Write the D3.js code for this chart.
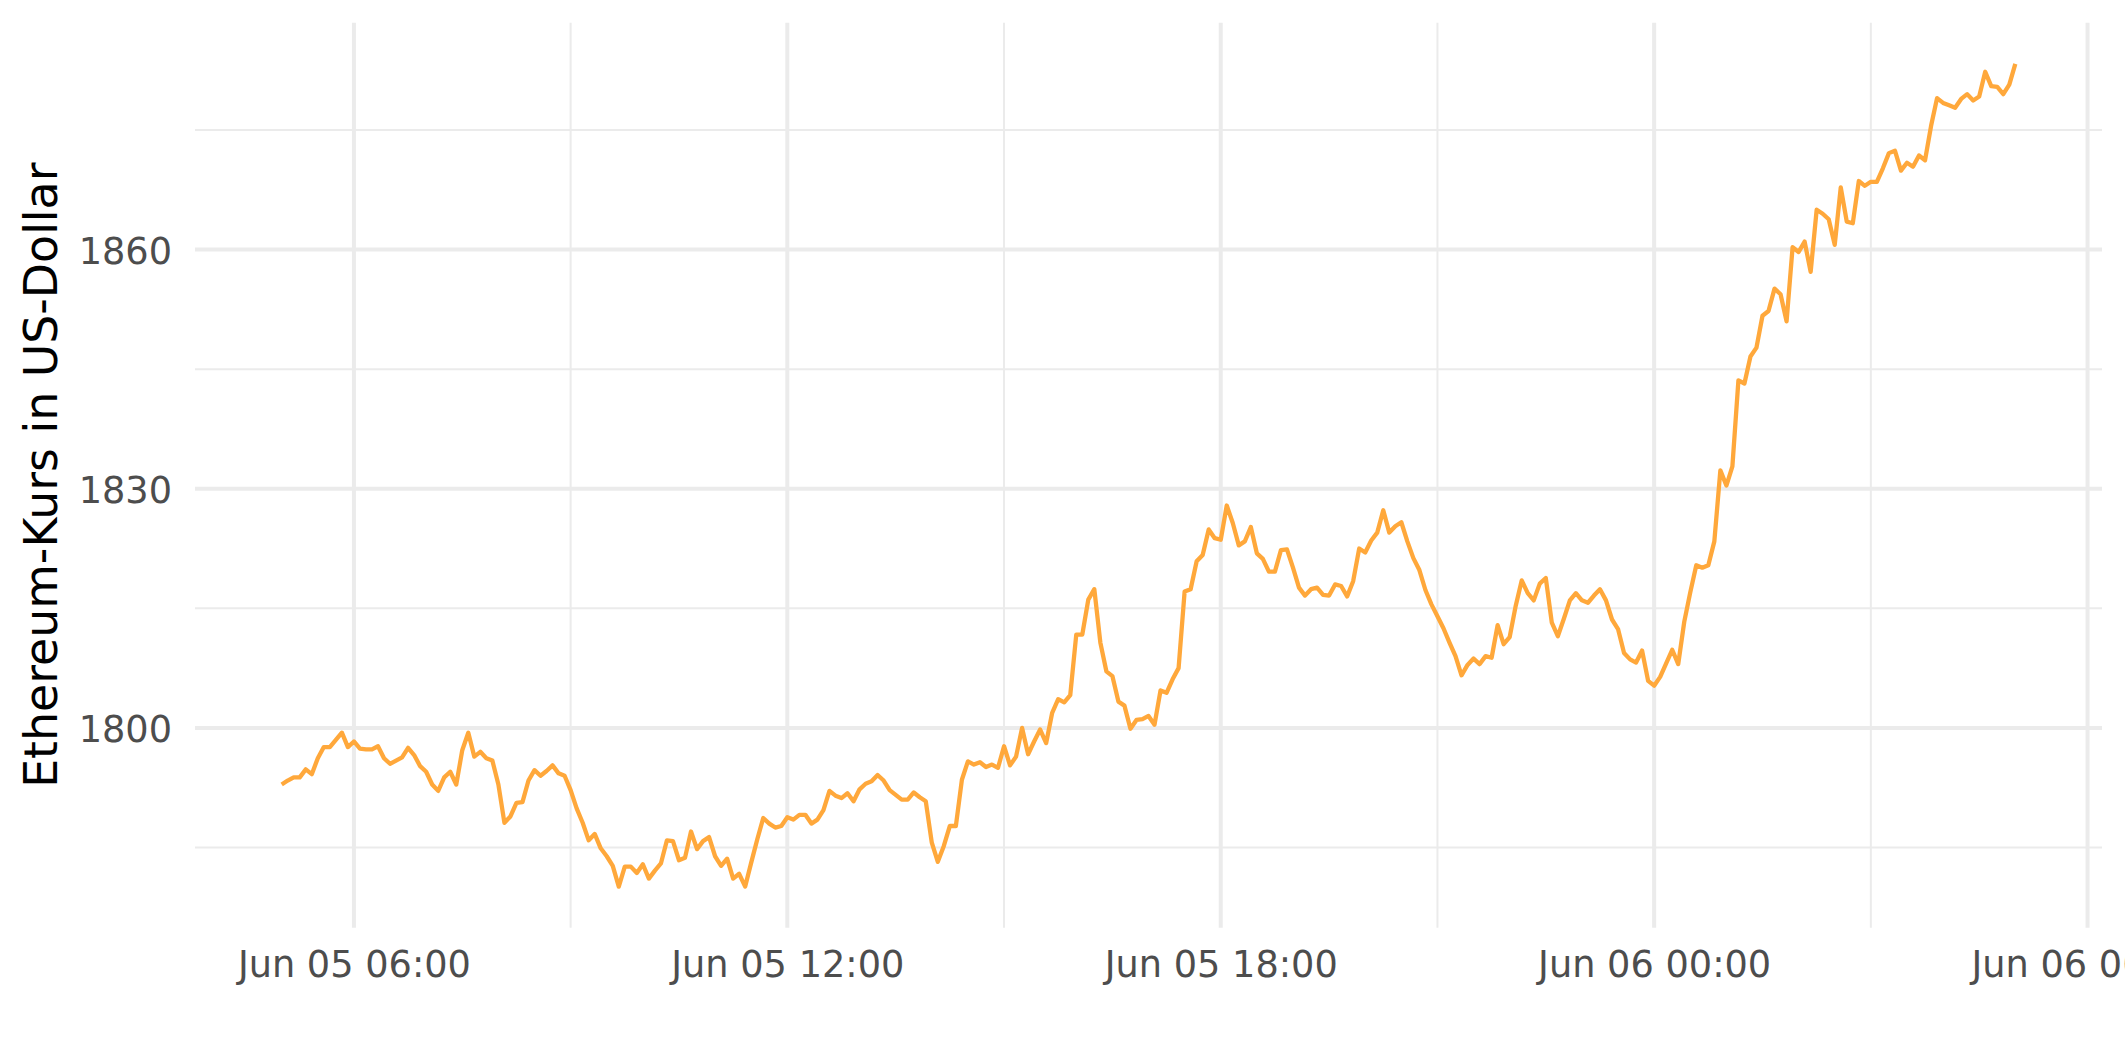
<!DOCTYPE html>
<html>
<head>
<meta charset="utf-8">
<script src="https://cdn.jsdelivr.net/npm/d3@7"></script>
<style>
  html, body { margin: 0; padding: 0; background: #ffffff; }
  svg { display: block; }
</style>
</head>
<body>
<svg id="chart" width="2125" height="1062"></svg>
<script>
// ---- Data ----
const startTime = "2023-06-05T05:00:00Z";   // first sample
const stepMinutes = 5;                        // sampling interval
const prices = [
  1792.9,1793.4,1793.8,1793.8,1794.8,1794.2,1796.2,1797.6,1797.6,1798.5,
  1799.4,1797.6,1798.3,1797.4,1797.3,1797.3,1797.7,1796.2,1795.5,1795.9,
  1796.3,1797.5,1796.6,1795.2,1794.5,1792.9,1792.1,1793.8,1794.5,1792.9,
  1797.2,1799.4,1796.4,1797.0,1796.2,1795.9,1792.9,1788.1,1788.9,1790.6,
  1790.7,1793.4,1794.7,1794.0,1794.6,1795.3,1794.3,1794.0,1792.2,1789.9,
  1788.1,1785.9,1786.7,1784.9,1783.9,1782.7,1780.1,1782.6,1782.6,1781.8,
  1782.9,1781.1,1782.1,1783.0,1785.9,1785.8,1783.4,1783.7,1787.0,1784.8,
  1785.8,1786.3,1783.9,1782.7,1783.6,1781.1,1781.7,1780.1,1783.1,1786.0,
  1788.7,1788.0,1787.5,1787.7,1788.8,1788.5,1789.1,1789.1,1788.0,1788.5,
  1789.7,1792.1,1791.5,1791.2,1791.8,1790.8,1792.3,1793.0,1793.3,1794.1,
  1793.4,1792.2,1791.6,1791.0,1791.0,1791.9,1791.3,1790.8,1785.6,1783.2,
  1785.2,1787.7,1787.7,1793.5,1795.8,1795.4,1795.7,1795.1,1795.4,1795.0,
  1797.7,1795.3,1796.4,1800.0,1796.7,1798.3,1799.8,1798.1,1801.9,1803.6,
  1803.2,1804.1,1811.7,1811.7,1816.1,1817.4,1810.7,1807.1,1806.5,1803.3,
  1802.8,1799.9,1801.0,1801.1,1801.5,1800.4,1804.7,1804.4,1806.1,1807.5,
  1817.1,1817.4,1820.9,1821.7,1824.9,1823.8,1823.6,1827.9,1825.7,1822.9,
  1823.4,1825.2,1821.9,1821.2,1819.6,1819.6,1822.3,1822.4,1820.1,1817.6,
  1816.6,1817.4,1817.6,1816.7,1816.6,1818.0,1817.8,1816.5,1818.4,1822.5,
  1822.0,1823.5,1824.5,1827.3,1824.5,1825.3,1825.8,1823.4,1821.3,1819.8,
  1817.3,1815.5,1814.0,1812.5,1810.7,1809.0,1806.6,1807.9,1808.7,1808.0,
  1809.0,1808.8,1812.9,1810.5,1811.4,1815.3,1818.5,1816.9,1816.0,1818.1,
  1818.8,1813.2,1811.5,1813.7,1816.0,1816.9,1816.0,1815.7,1816.6,1817.4,
  1816.0,1813.6,1812.4,1809.4,1808.6,1808.2,1809.7,1805.9,1805.3,1806.4,
  1808.1,1809.8,1808.0,1813.3,1817.0,1820.4,1820.1,1820.4,1823.4,1832.3,
  1830.4,1832.8,1843.6,1843.2,1846.6,1847.7,1851.7,1852.3,1855.1,1854.4,
  1851.0,1860.3,1859.7,1861.0,1857.2,1865.0,1864.5,1863.8,1860.6,1867.8,
  1863.5,1863.3,1868.6,1868.0,1868.5,1868.5,1870.2,1872.1,1872.4,1869.9,
  1870.9,1870.4,1871.8,1871.2,1875.5,1879.0,1878.4,1878.1,1877.8,1878.9,
  1879.5,1878.7,1879.2,1882.3,1880.5,1880.4,1879.5,1880.7,1883.3
];
const xTickTimes  = ["2023-06-05T06:00:00Z","2023-06-05T12:00:00Z","2023-06-05T18:00:00Z","2023-06-06T00:00:00Z","2023-06-06T06:00:00Z"];
const xTickLabels = ["Jun 05 06:00","Jun 05 12:00","Jun 05 18:00","Jun 06 00:00","Jun 06 06:00"];
const xMinorTimes = ["2023-06-05T09:00:00Z","2023-06-05T15:00:00Z","2023-06-05T21:00:00Z","2023-06-06T03:00:00Z"];
const yTicks      = [1800, 1830, 1860];
const yMinorTicks = [1785, 1815, 1845, 1875];
const yTitle = "Ethereum-Kurs in US-Dollar";

// ---- Layout ----
const W = 2125, H = 1062;
const panel = { left: 195, right: 2102, top: 22.7, bottom: 927.7 };
const font = "'DejaVu Sans', sans-serif";

const t0 = new Date(startTime).getTime();
const data = prices.map((v, i) => ({ t: new Date(t0 + i * stepMinutes * 60000), v }));

// ggplot-like 5% expansion
const tExt = d3.extent(data, d => d.t.getTime());
const tPad = (tExt[1] - tExt[0]) * 0.05;
const vExt = d3.extent(data, d => d.v);
const vPad = (vExt[1] - vExt[0]) * 0.05;

const x = d3.scaleUtc()
  .domain([new Date(tExt[0] - tPad), new Date(tExt[1] + tPad)])
  .range([panel.left, panel.right]);
const y = d3.scaleLinear()
  .domain([vExt[0] - vPad, vExt[1] + vPad])
  .range([panel.bottom, panel.top]);

const svg = d3.select("#chart");
svg.append("rect").attr("width", W).attr("height", H).attr("fill", "#ffffff");

const grid = svg.append("g");
const gridColor = "#EBEBEB";
// minor grid
grid.selectAll("line.ymin").data(yMinorTicks).join("line")
  .attr("x1", panel.left).attr("x2", panel.right)
  .attr("y1", d => y(d)).attr("y2", d => y(d))
  .attr("stroke", gridColor).attr("stroke-width", 2);
grid.selectAll("line.xmin").data(xMinorTimes).join("line")
  .attr("y1", panel.top).attr("y2", panel.bottom)
  .attr("x1", d => x(new Date(d))).attr("x2", d => x(new Date(d)))
  .attr("stroke", gridColor).attr("stroke-width", 2);
// major grid
grid.selectAll("line.ymaj").data(yTicks).join("line")
  .attr("x1", panel.left).attr("x2", panel.right)
  .attr("y1", d => y(d)).attr("y2", d => y(d))
  .attr("stroke", gridColor).attr("stroke-width", 4);
grid.selectAll("line.xmaj").data(xTickTimes).join("line")
  .attr("y1", panel.top).attr("y2", panel.bottom)
  .attr("x1", d => x(new Date(d))).attr("x2", d => x(new Date(d)))
  .attr("stroke", gridColor).attr("stroke-width", 4);

// line
const line = d3.line().x(d => x(d.t)).y(d => y(d.v));
svg.append("path")
  .datum(data)
  .attr("d", line)
  .attr("fill", "none")
  .attr("stroke", "#FFA83B")
  .attr("stroke-width", 4.3)
  .attr("stroke-linejoin", "round")
  .attr("stroke-linecap", "butt");

// x axis
const xAxis = d3.axisBottom(x)
  .tickValues(xTickTimes.map(d => new Date(d)))
  .tickFormat((d, i) => xTickLabels[i])
  .tickSize(0);
const gx = svg.append("g").attr("transform", `translate(0,${panel.bottom})`).call(xAxis);
gx.select(".domain").remove();
gx.selectAll("text")
  .attr("y", 49).attr("dy", 0)
  .attr("fill", "#4D4D4D")
  .style("font-family", font).style("font-size", "36.7px");

// y axis
const yAxis = d3.axisLeft(y).tickValues(yTicks).tickFormat(d3.format("d")).tickSize(0);
const gy = svg.append("g").attr("transform", `translate(${panel.left},0)`).call(yAxis);
gy.select(".domain").remove();
gy.selectAll("text")
  .attr("x", -23).attr("dy", "0.368em")
  .attr("text-anchor", "end")
  .attr("fill", "#4D4D4D")
  .style("font-family", font).style("font-size", "36.7px");

// y title
svg.append("text")
  .attr("transform", `translate(57.3,${(panel.top + panel.bottom) / 2}) rotate(-90)`)
  .attr("text-anchor", "middle")
  .attr("fill", "#000000")
  .style("font-family", font).style("font-size", "45.8px")
  .text(yTitle);
</script>
</body>
</html>
